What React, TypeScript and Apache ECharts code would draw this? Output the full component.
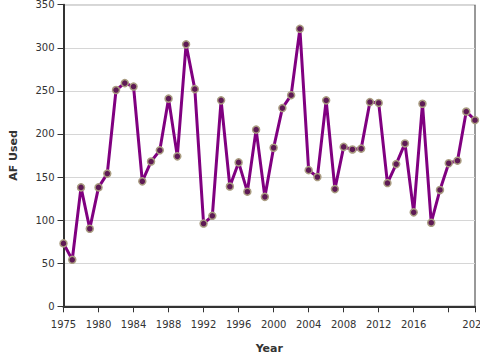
import React, { useEffect, useRef } from "react";
import * as echarts from "echarts";

const years: string[] = [
  "1975", "1976", "1977", "1978",
  "1980", "1981", "1982", "1983", "1984", "1985", "1986", "1987", "1988", "1989",
  "1990", "1991", "1992", "1993", "1994", "1995", "1996", "1997", "1998", "1999",
  "2000", "2001", "2002", "2003", "2004", "2005", "2006", "2007", "2008", "2009",
  "2010", "2011", "2012", "2013", "2014", "2015", "2016", "2017", "2018", "2019",
  "2020", "2021", "2022", "2023",
];

const afUsed: number[] = [
  73, 54, 138, 90,
  138, 154, 251, 259, 255, 145, 168, 181, 241, 174,
  304, 252, 96, 105, 239, 139, 167, 133, 205, 127,
  184, 230, 245, 322, 158, 150, 239, 136, 185, 182,
  183, 237, 236, 143, 165, 189, 109, 235, 97, 135,
  166, 169, 226, 216,
];

const yTicks = { min: 0, max: 350, interval: 50 };

export default function App() {
  const ref = useRef<HTMLDivElement>(null);
  useEffect(() => {
    if (!ref.current) return;
    const chart = echarts.init(ref.current, null, { renderer: "svg" });
    const last = years.length - 1;
    const font = "DejaVu Sans";
    chart.setOption({
      animation: false,
      grid: {
        left: 63.5,
        right: 5,
        top: 4.7,
        bottom: 53.7,
        show: true,
        borderColor: "#333",
        borderWidth: 1,
        backgroundColor: "transparent",
        outerBoundsMode: "none",
      },
      xAxis: {
        type: "category",
        data: years,
        boundaryGap: false,
        name: "Year",
        nameLocation: "middle",
        nameGap: 37,
        nameTextStyle: { fontFamily: font, fontWeight: "bold", fontSize: 11, color: "#333" },
        axisLine: { lineStyle: { color: "#333", width: 2 } },
        axisTick: {
          length: 6,
          lineStyle: { color: "#333" },
          interval: (i: number) => i % 4 === 0 || i === last,
        },
        axisLabel: {
          fontFamily: font,
          fontSize: 10,
          color: "#333",
          margin: 13,
          alignMinLabel: "center",
          alignMaxLabel: "center",
          hideOverlap: false,
          interval: (i: number) => (i % 4 === 0 && i !== 44) || i === last,
        },
        splitLine: { show: false },
      },
      yAxis: {
        type: "value",
        min: yTicks.min,
        max: yTicks.max,
        interval: yTicks.interval,
        name: "AF Used",
        nameLocation: "middle",
        nameGap: 45,
        nameTextStyle: { fontFamily: font, fontWeight: "bold", fontSize: 11, color: "#333" },
        axisLine: { show: true, lineStyle: { color: "#333", width: 2 } },
        axisTick: { show: true, length: 6, lineStyle: { color: "#333" } },
        axisLabel: { fontFamily: font, fontSize: 10, color: "#333", margin: 9 },
        splitLine: { show: true, lineStyle: { color: "#d6d6d6", width: 1 } },
      },
      series: [
        {
          type: "line",
          data: afUsed,
          symbol: "circle",
          symbolSize: 7,
          showSymbol: true,
          showAllSymbol: true,
          lineStyle: { color: "#800080", width: 3 },
          itemStyle: { color: "#5e1a55", borderColor: "#a99c80", borderWidth: 1.5 },
          emphasis: { disabled: true },
        },
      ],
    });
    return () => chart.dispose();
  }, []);
  return (
    <div
      ref={ref}
      style={{ position: "fixed", left: 0, top: 0, width: 480, height: 360, background: "#fff" }}
    />
  );
}
